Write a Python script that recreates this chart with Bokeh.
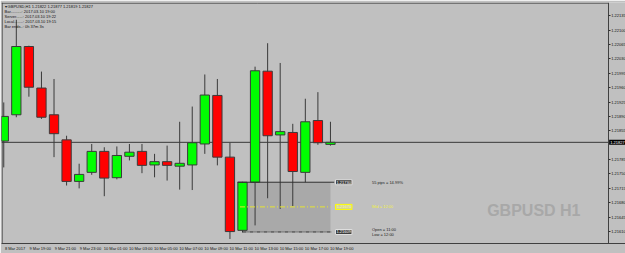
from bokeh.plotting import figure
from bokeh.models import FixedTicker, Span, Label, Range1d, ColumnDataSource
from bokeh.embed import file_html
from bokeh.resources import INLINE

# ---- data (GBPUSD H1) ----
bar_index = list(range(27))
opens  = [1.21830, 1.21894, 1.22060, 1.21959, 1.21894, 1.21833, 1.21732, 1.21754, 1.21805,
          1.21741, 1.21793, 1.21805, 1.21772, 1.21780, 1.21769, 1.21772, 1.21823, 1.21941,
          1.21791, 1.21613, 1.21730, 1.22000, 1.21845, 1.21851, 1.21754, 1.21880, 1.21822]
highs  = [1.21924, 1.22125, 1.22062, 1.21999, 1.21981, 1.21843, 1.21775, 1.21823, 1.21815,
          1.21817, 1.21823, 1.21823, 1.21799, 1.21819, 1.21877, 1.21914, 1.21992, 1.21981,
          1.21826, 1.21731, 1.22011, 1.22068, 1.22020, 1.21872, 1.21933, 1.21949, 1.21877]
lows   = [1.21766, 1.21888, 1.21938, 1.21884, 1.21791, 1.21722, 1.21715, 1.21748, 1.21696,
          1.21737, 1.21783, 1.21752, 1.21742, 1.21734, 1.21712, 1.21711, 1.21799, 1.21771,
          1.21592, 1.21608, 1.21625, 1.21691, 1.21665, 1.21672, 1.21730, 1.21821, 1.21819]
closes = [1.21890, 1.22060, 1.21961, 1.21888, 1.21848, 1.21732, 1.21749, 1.21805, 1.21740,
          1.21795, 1.21803, 1.21771, 1.21780, 1.21771, 1.21776, 1.21826, 1.21942, 1.21791,
          1.21610, 1.21730, 1.22001, 1.21843, 1.21853, 1.21756, 1.21877, 1.21826, 1.21827]

x_tick_bars = [0, 2, 4, 6, 8, 10, 12, 14, 16, 18, 20, 22, 24, 26]
x_tick_labels = ["8 Mar 2017", "9 Mar 19:00", "9 Mar 21:00", "9 Mar 23:00", "10 Mar 01:00",
                 "10 Mar 03:00", "10 Mar 05:00", "10 Mar 07:00", "10 Mar 09:00", "10 Mar 11:00",
                 "10 Mar 13:00", "10 Mar 15:00", "10 Mar 17:00", "10 Mar 19:00"]
y_tick_values = [1.22135, 1.22100, 1.22065, 1.22030, 1.21995, 1.21960, 1.21925, 1.21890,
                 1.21855, 1.21785, 1.21750, 1.21715, 1.21680, 1.21645, 1.21610]
y_tick_labels = ["%.5f" % v for v in y_tick_values]

current_price = 1.21827
header_lines = ["\u25be GBPUSD,H1  1.21822 1.21877 1.21819 1.21827",
                "Bar..........: 2017.03.10 19:00",
                "Server......: 2017.03.10 19:22",
                "Local........: 2017.03.10 19:15",
                "Bar ends..: 0h 37m 3s"]

# range box object
box_start, box_end = 19, 26
box_top, box_bottom = 1.21730, 1.21609
box_mid = 1.21670
box_top_text = "55 pips = 14.99%"
box_mid_text = "Mid = 12:00"
box_bottom_text = ["Open = 11:00", "Low = 12:00"]
watermark = "GBPUSD H1"

BG = "#c0c0c0"
FONT = "Liberation Sans"

# chart area spans x_start..chart_end; price scale sits right of chart_end
x_start, chart_end, x_end = -0.18, 48.1, 49.48
y_start, y_end = 1.21581, 1.22167
px_x = (x_end - x_start) / 624.0
px_y = (y_end - y_start) / 241.0

p = figure(width=625, height=253, output_backend="svg", toolbar_location=None,
           x_range=Range1d(x_start, x_end), y_range=Range1d(y_start, y_end),
           y_axis_location="right", min_border_left=1, min_border_right=0,
           min_border_top=2, min_border_bottom=10)
p.background_fill_color = BG
p.border_fill_color = BG
p.outline_line_color = None
p.xgrid.visible = False
p.ygrid.visible = False

# chart frame lines (top, left)
p.segment(x0=[x_start], y0=[y_end - 0.6 * px_y], x1=[chart_end], y1=[y_end - 0.6 * px_y],
          line_color="#404040", line_width=1)
p.segment(x0=[x_start + 0.6 * px_x], y0=[y_start], x1=[x_start + 0.6 * px_x], y1=[y_end],
          line_color="#404040", line_width=1)

# box fill (behind candles)
p.quad(left=[box_start], right=[box_end], top=[box_top], bottom=[box_bottom],
       fill_color="#a9a9a9", line_color=None)

# current price line
p.segment(x0=[x_start], y0=[current_price], x1=[chart_end], y1=[current_price],
          line_color="#383838", line_width=1)

# candles
src = ColumnDataSource(dict(
    x=bar_index, o=opens, h=highs, l=lows, c=closes,
    top=[max(a, b) for a, b in zip(opens, closes)],
    bot=[min(a, b) for a, b in zip(opens, closes)],
    col=["#00ff00" if c >= o else "#ff0000" for o, c in zip(opens, closes)],
))
p.segment(x0="x", y0="h", x1="x", y1="l", source=src, line_color="#3a3a3a", line_width=1)
p.vbar(x="x", width=0.74, top="top", bottom="bot", source=src,
       fill_color="col", line_color="#3a3a3a", line_width=1)

# box outlines
p.segment(x0=[box_start - 0.4], y0=[box_top], x1=[box_end + 0.3], y1=[box_top],
          line_color="#303030", line_width=1)
p.segment(x0=[box_start], y0=[box_bottom], x1=[box_end + 0.1], y1=[box_bottom],
          line_color="#303030", line_width=1, line_dash="4 1 1 1")
p.segment(x0=[box_start - 0.2], y0=[box_mid], x1=[box_end], y1=[box_mid],
          line_color="#e6e632", line_width=1, line_dash="5 2 1 2")

def tag(y, txt, bg, fg, border):
    p.add_layout(Label(x=box_end + 0.4, y=y, text=txt, text_font=FONT, text_font_size="4px",
                       text_color=fg, text_baseline="middle", text_align="left",
                       background_fill_color=bg, border_line_color=border, padding=1))

tag(box_top, "%.5f" % box_top, "#3c3c3c", "#ffffff", "#e0e0e0")
tag(box_mid, "%.5f" % box_mid, "#d4d49a", "#ffff90", "#ffff00")
tag(box_bottom, "%.5f" % box_bottom, "#3c3c3c", "#ffffff", "#e0e0e0")
p.add_layout(Label(x=box_end + 3.3, y=box_top, text=box_top_text, text_font=FONT,
                   text_font_size="4px", text_color="#202020", text_baseline="middle"))
p.add_layout(Label(x=box_end + 3.3, y=box_mid, text=box_mid_text, text_font=FONT,
                   text_font_size="4px", text_color="#f0f040", text_baseline="middle"))
for i, t in enumerate(box_bottom_text):
    p.add_layout(Label(x=box_end + 3.3, y=box_bottom, y_offset=2 - 5 * i, text=t, text_font=FONT,
                       text_font_size="4px", text_color="#202020", text_baseline="middle"))

# watermark
p.add_layout(Label(x=45.9, y=1.21661, text=watermark, text_font=FONT,
                   text_font_style="bold", text_font_size="16px", text_color="#a8a8a8",
                   text_align="right", text_baseline="alphabetic"))

# header
for i, t in enumerate(header_lines):
    p.add_layout(Label(x=x_start, y=y_end, x_offset=3, y_offset=-1 - 5 * i, text=t,
                       text_font=FONT, text_font_size="4px", text_color="#101010",
                       text_baseline="top"))

# current price tag on the price scale
p.add_layout(Label(x=chart_end, y=current_price, x_offset=1, text="%.5f" % current_price,
                   text_font=FONT, text_font_size="4px", text_color="#ffffff",
                   background_fill_color="#000000", text_baseline="middle", padding=1))

# x axis
xt = [b + 0.9 for b in x_tick_bars]
p.xaxis.ticker = FixedTicker(ticks=xt)
p.xaxis.major_label_overrides = {t: s for t, s in zip(xt, x_tick_labels)}
p.xaxis.major_tick_line_color = None
p.xaxis.major_tick_out = 0
p.xaxis.major_tick_in = 0
p.xaxis.minor_tick_line_color = None
p.xaxis.major_label_standoff = 2
p.xaxis.axis_line_color = "#404040"
p.xaxis.major_label_text_font = FONT
p.xaxis.major_label_text_font_size = "4px"
p.xaxis.major_label_text_color = "#101010"

# y axis (price scale), pinned at the right edge of the chart area
p.yaxis.fixed_location = chart_end
p.yaxis.ticker = FixedTicker(ticks=y_tick_values)
p.yaxis.major_label_overrides = {v: s for v, s in zip(y_tick_values, y_tick_labels)}
p.yaxis.major_tick_out = 2
p.yaxis.major_tick_in = 0
p.yaxis.major_tick_line_color = "#303030"
p.yaxis.minor_tick_line_color = None
p.yaxis.major_label_standoff = 1
p.yaxis.axis_line_color = "#404040"
p.yaxis.major_label_text_font = FONT
p.yaxis.major_label_text_font_size = "4px"
p.yaxis.major_label_text_color = "#101010"

open("out.html", "w").write(file_html(p, INLINE))
